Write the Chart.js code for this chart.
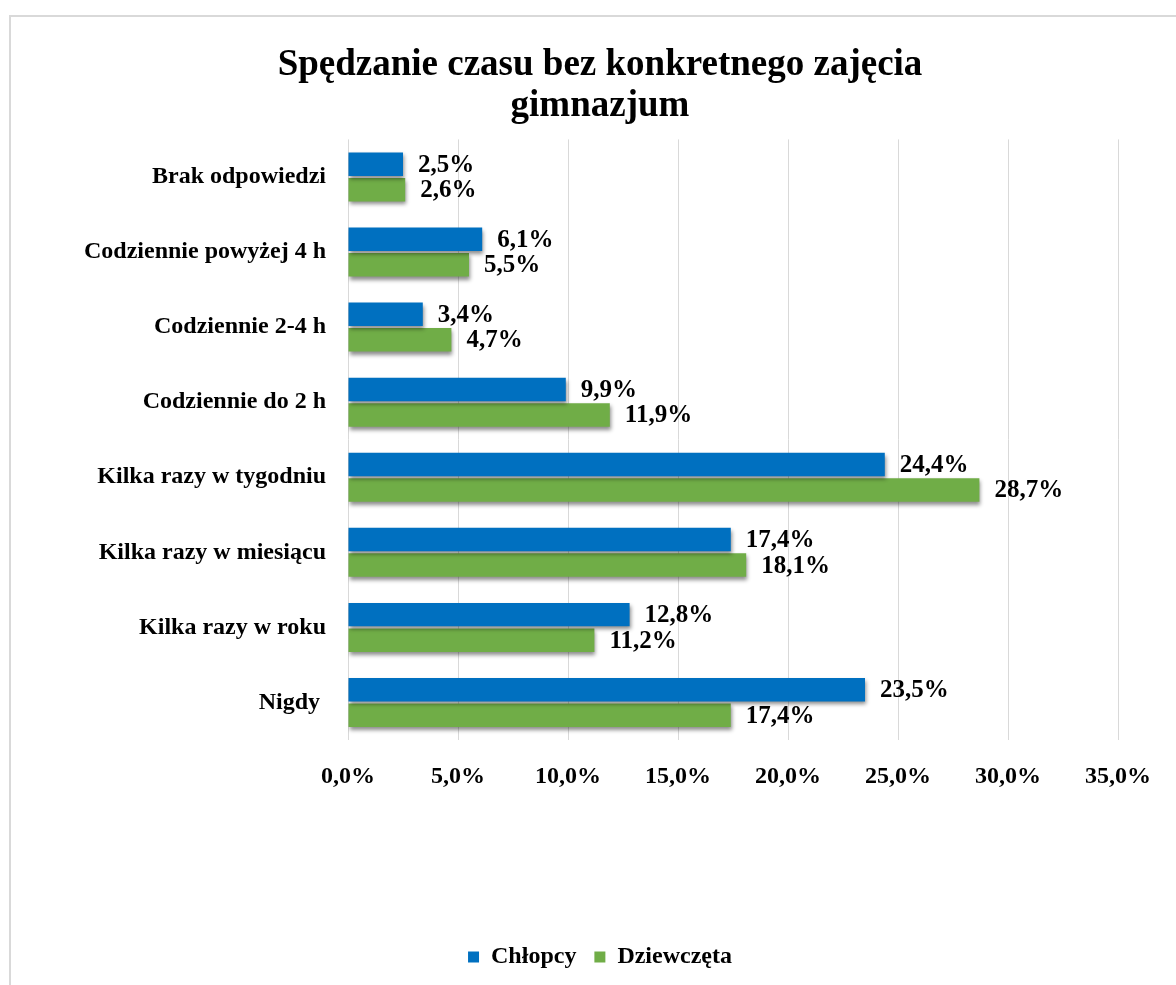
<!DOCTYPE html>
<html>
<head>
<meta charset="utf-8">
<script src="https://cdn.jsdelivr.net/npm/chart.js@4/dist/chart.umd.min.js"></script>
<style>
    body { margin: 0; background: #fff; }
    #frame { position: absolute; left: 9px; top: 15px; width: 1178px; height: 980px; border: 2px solid #d9d9d9; }
</style>
</head>
<body>
<div id="frame"><canvas id="chart" width="1178" height="968"></canvas></div>
<script>
"use strict";

const categories = [
    'Brak odpowiedzi',
    'Codziennie powyżej 4 h',
    'Codziennie 2-4 h',
    'Codziennie do 2 h',
    'Kilka razy w tygodniu',
    'Kilka razy w miesiącu',
    'Kilka razy w roku',
    'Nigdy '
];
const boysValues = [2.5, 6.1, 3.4, 9.9, 24.4, 17.4, 12.8, 23.5];
const girlsValues = [2.6, 5.5, 4.7, 11.9, 28.7, 18.1, 11.2, 17.4];
const xTicks = [0, 5, 10, 15, 20, 25, 30, 35];

const FONT = "'Liberation Serif', 'Times New Roman', serif";

const pct = (v) => v.toFixed(1).replace('.', ',') + '%';

// shadow under the bars
const barShadow = {
    id: 'barShadow',
    beforeDatasetsDraw: (chart) => {
        let ctx = chart.ctx;
        ctx.save();
        ctx.shadowColor = 'rgba(0, 0, 0, 0.45)';
        ctx.shadowBlur = 4;
        ctx.shadowOffsetX = 1;
        ctx.shadowOffsetY = 3;
    },
    afterDatasetsDraw: (chart) => {
        chart.ctx.restore();
    }
};

// value labels next to the bars
const valueLabels = {
    id: 'valueLabels',
    afterDatasetsDraw: (chart) => {
        let ctx = chart.ctx;
        ctx.save();
        ctx.font = `bold 25px ${FONT}`;
        ctx.fillStyle = '#000';
        ctx.textAlign = 'left';
        ctx.textBaseline = 'middle';
        chart.data.datasets.forEach((ds, i) => {
            chart.getDatasetMeta(i).data.forEach((bar, j) => {
                ctx.fillText(pct(ds.data[j]), bar.x + 15, bar.y + 1);
            });
        });
        ctx.restore();
    }
};

let config = {
    type: 'bar',
    data: {
        labels: categories,
        datasets: [{
            label: 'Chłopcy',
            data: boysValues,
            backgroundColor: '#0070c0',
            categoryPercentage: 0.68,
            barPercentage: 0.92
        }, {
            label: 'Dziewczęta',
            data: girlsValues,
            backgroundColor: '#70ad47',
            categoryPercentage: 0.68,
            barPercentage: 0.92
        }]
    },
    options: {
        indexAxis: 'y',
        responsive: false,
        animation: false,
        layout: { padding: { bottom: 6 } },
        plugins: {
            title: {
                display: true,
                text: ['Spędzanie czasu bez konkretnego zajęcia', 'gimnazjum'],
                color: '#000',
                font: { family: FONT, size: 37, weight: 'bold', lineHeight: 1.1 },
                padding: { top: 28, bottom: 13 }
            },
            legend: {
                position: 'bottom',
                labels: {
                    color: '#000',
                    boxWidth: 11,
                    boxHeight: 11,
                    padding: 18,
                    font: { family: FONT, size: 24, weight: 'bold' }
                }
            },
            tooltip: { enabled: false }
        },
        scales: {
            x: {
                min: 0,
                max: 35,
                afterBuildTicks: (s) => { s.ticks = xTicks.map(v => ({ value: v })); },
                afterFit: (s) => { s.height = 187; },
                grid: { color: '#d9d9d9', drawTicks: false },
                border: { display: false },
                ticks: {
                    color: '#000',
                    padding: 22,
                    font: { family: FONT, size: 24, weight: 'bold' },
                    callback: (v) => pct(v)
                }
            },
            y: {
                afterFit: (s) => { s.width = 337; },
                grid: { display: false },
                border: { display: false },
                ticks: {
                    color: '#000',
                    padding: 14,
                    font: { family: FONT, size: 24, weight: 'bold' }
                }
            },
            yRight: {
                type: 'category',
                position: 'right',
                afterFit: (s) => { s.width = 71; },
                grid: { display: false },
                border: { display: false },
                ticks: { display: false }
            }
        }
    },
    plugins: [barShadow, valueLabels]
};

new Chart(document.getElementById('chart'), config);
</script>
</body>
</html>
